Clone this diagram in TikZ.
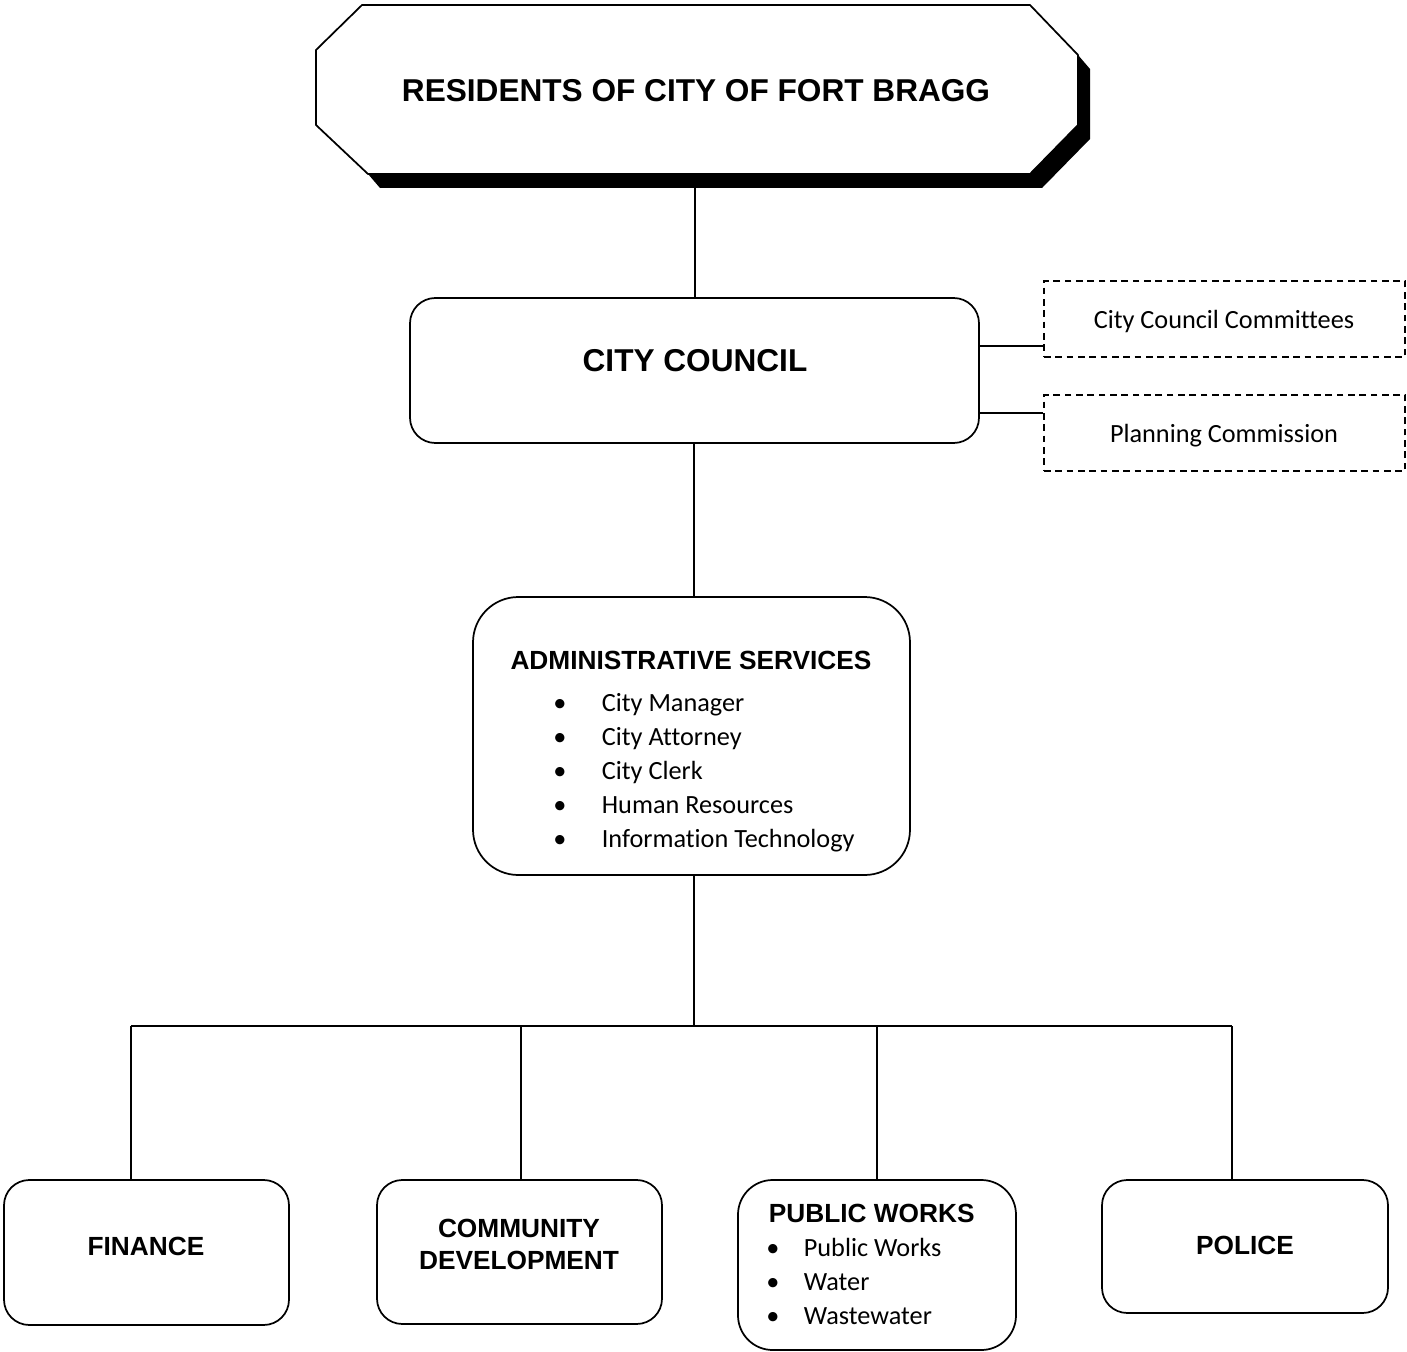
\documentclass[tikz,border=0pt]{standalone}
\usepackage{fontspec}
\setmainfont{Carlito}[Ligatures=NoCommon]
\newfontfamily\headfont{Liberation Sans}
\usetikzlibrary{calc}

\def\u{0.75pt}
\newcommand{\hd}{\headfont\bfseries}

\begin{document}
\begin{tikzpicture}[x=0.75pt, y=-0.75pt, line width=1.3pt,
    box/.style={draw, rounded corners=19pt, inner sep=0pt},
    sidebox/.style={draw, dashed, line width=1pt, dash pattern=on 5pt off 3.5pt, inner sep=0pt,
        minimum width=361*\u, minimum height=76*\u},
    bigtxt/.style={font=\hd\fontsize{23.7}{28}\selectfont, anchor=base, inner sep=0pt},
    headtxt/.style={font=\hd\fontsize{19.7}{24}\selectfont, anchor=base, inner sep=0pt},
    itemtxt/.style={font=\fontsize{19.7}{24}\selectfont, anchor=base west, inner sep=0pt},
    dottxt/.style={font=\fontsize{19.7}{24}\selectfont, anchor=base, inner sep=0pt}]
    \useasboundingbox (0,0) rectangle (1407,1352);

    % residents octagon with shadow
    \fill[black] (368,174) -- (380,188) -- (1042,188) -- (1090,139) -- (1090,69) -- (1078,55) -- (1078,125) -- (1030,174) -- cycle;
    \draw[fill=white] (362,5) -- (1030,5) -- (1078,55) -- (1078,125) -- (1030,174) -- (368,174) -- (316,125) -- (316,50) -- cycle;
    \node[bigtxt] (residents) at (696,102) {RESIDENTS OF CITY OF FORT BRAGG};
    \coordinate (resbot) at (695,188);

    % council and advisory bodies
    \node[box, minimum width=569*\u, minimum height=145*\u] (council) at (694.5,370.5) {};
    \node[bigtxt] (counciltxt) at (695,371) {CITY COUNCIL};
    \node[sidebox] (committees) at (1224.5,319) {};
    \node[dottxt] at (1224,328) {City Council Committees};
    \node[sidebox] (planning) at (1224.5,433) {};
    \node[dottxt] at (1224,442) {Planning Commission};

    % administrative services
    \node[box, rounded corners=34pt, minimum width=437*\u, minimum height=278*\u] (admin) at (691.5,736) {};
    \node[headtxt] (admintxt) at (691,669) {ADMINISTRATIVE SERVICES};
    \foreach \item [count=\i] in {City Manager, City Attorney, City Clerk, Human Resources, Information Technology} {
        \node[dottxt] (adot\i) at (560,{711+34*(\i-1)}) {\textbullet};
        \node[itemtxt] (aitem\i) at (601,{711+34*(\i-1)}) {\item};
    }

    % departments
    \node[box, minimum width=285*\u, minimum height=145*\u] (finance) at (146.5,1252.5) {};
    \node[headtxt] at (146,1255) {FINANCE};
    \node[box, minimum width=285*\u, minimum height=144*\u] (community) at (519.5,1252) {};
    \node[headtxt] at (519,1237) {COMMUNITY};
    \node[headtxt] at (519,1269) {DEVELOPMENT};
    \node[box, rounded corners=26pt, minimum width=278*\u, minimum height=170*\u] (works) at (877,1265) {};
    \node[headtxt, anchor=base west] (workstxt) at (768,1222) {PUBLIC WORKS};
    \foreach \item [count=\i] in {Public Works, Water, Wastewater} {
        \node[dottxt] (wdot\i) at (773,{1256+34*(\i-1)}) {\textbullet};
        \node[itemtxt] (witem\i) at (803,{1256+34*(\i-1)}) {\item};
    }
    \node[box, minimum width=286*\u, minimum height=133*\u] (police) at (1245,1246.5) {};
    \node[headtxt] at (1245,1254) {POLICE};

    % connectors
    \coordinate (bus) at (694,1026);
    \coordinate (busL) at (131,1026);
    \coordinate (busR) at (1232,1026);
    \coordinate (busC) at (521,1026);
    \draw (resbot) -- (resbot |- council.north);
    \draw (council.east |- 0,346) -- (committees.west |- 0,346);
    \draw (council.east |- 0,413) -- (planning.west |- 0,413);
    \draw (bus |- council.south) -- (bus |- admin.north);
    \draw (bus |- admin.south) -- (bus);
    \draw (busL) -- (busR);
    \draw (busL) -- (busL |- finance.north);
    \draw (busC) -- (busC |- community.north);
    \draw (works.north |- busL) -- (works.north);
    \draw (busR) -- (busR |- police.north);
\end{tikzpicture}
\end{document}
